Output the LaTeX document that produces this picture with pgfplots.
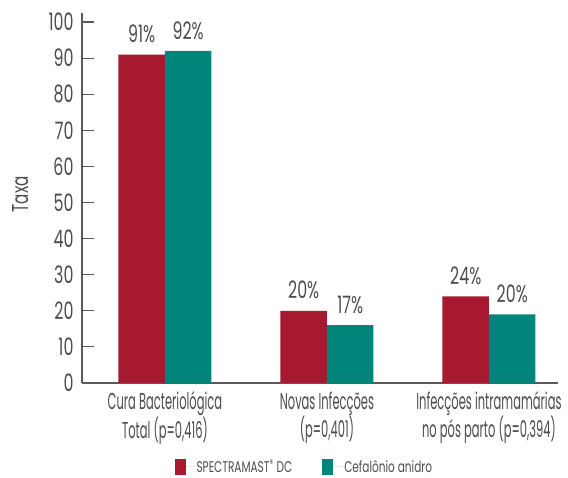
\documentclass[border=0pt]{standalone}
\usepackage{fontspec}
\setmainfont{Poppins}
\newfontfamily\catfont{Poppins}[FakeStretch=0.5]
\newfontfamily\numfont{Poppins}[FakeStretch=0.66]
\newfontfamily\legfont{Poppins}[FakeStretch=0.68]
\usepackage{pgfplots}
\pgfplotsset{compat=1.18}
\definecolor{spred}{HTML}{A6192E}
\definecolor{spteal}{HTML}{00857A}
\definecolor{txt}{HTML}{4D4D4D}
\definecolor{axln}{HTML}{5A5A5A}
\begin{document}
\begin{tikzpicture}
\begin{axis}[
  name=ax,
  scale only axis,
  width=476pt, height=370pt,
  xmin=-0.512, xmax=2.426,
  ymin=0, ymax=102.5,
  axis x line=bottom, axis y line=left,
  axis line style={-, axln, line width=1.2pt},
  ytick={0,10,...,100},
  major tick length=12pt,
  tick align=inside,
  tick style={axln, line width=1.2pt},
  xtick={0,1,2},
  xtick style={draw=none},
  xticklabels={{Cura Bacteriológica\\Total (p=0,416)},{Novas Infecções\\(p=0,401)},{Infecções intramamárias\\no pós parto (p=0,394)}},
  xticklabel style={align=center, font=\catfont\fontsize{23}{26.5}\selectfont, text=txt, yshift=7pt},
  yticklabel style={font=\numfont\fontsize{24}{26}\selectfont, text=txt, xshift=-5pt},
  /pgf/number format/assume math mode=true,
  ylabel={Taxa},
  ylabel style={font=\numfont\fontsize{23}{26}\selectfont, text=txt, at={(axis description cs:-0.13,0.51)}, anchor=center},
  ybar=0pt, bar width=46.5pt,
  nodes near coords,
  point meta=explicit symbolic,
  every node near coord/.append style={font=\numfont\fontsize{24}{26}\selectfont, text=txt, yshift=8pt},
  legend style={at={(0.467,-0.227)}, anchor=center, draw=none, fill=none, legend columns=2,
    font=\legfont\fontsize{15.5}{17}\selectfont, text=txt,
    /tikz/every even column/.append style={column sep=28pt}},
  legend image code/.code={\fill[#1] (0pt,-8pt) rectangle (11pt,8pt); \path (11pt,0pt) -- (20pt,0pt);},
]
\addplot[fill=spred, draw=none] coordinates {(0,91) [91\%] (1,20) [20\%] (2,24) [24\%]};
\addplot[fill=spteal, draw=none] coordinates {(0,92) [92\%] (1,16) [17\%] (2,19) [20\%]};
\legend{SPECTRAMAST\textsuperscript{®} DC, Cefalônio anidro}
\end{axis}
\pgfresetboundingbox
\path[use as bounding box] ([shift={(-82pt,-95pt)}]ax.south west) rectangle ([shift={(10pt,13pt)}]ax.north east);
\end{tikzpicture}
\end{document}
